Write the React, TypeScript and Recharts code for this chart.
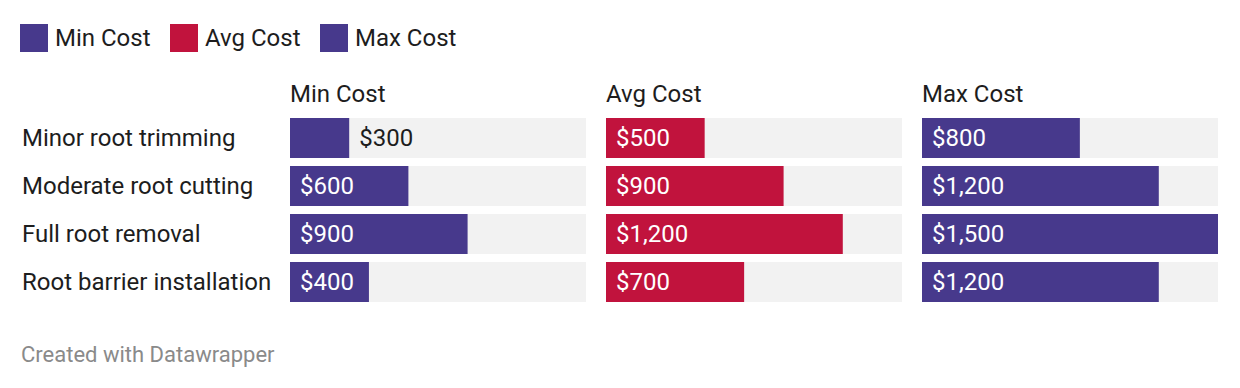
import React from "react";
import { BarChart, Bar, XAxis, YAxis, LabelList } from "recharts";

const categories = [
  "Minor root trimming",
  "Moderate root cutting",
  "Full root removal",
  "Root barrier installation",
];
const minCost = [300, 600, 900, 400];
const avgCost = [500, 900, 1200, 700];
const maxCost = [800, 1200, 1500, 1200];

const seriesNames = ["Min Cost", "Avg Cost", "Max Cost"];
const seriesKeys = ["min", "avg", "max"];
const seriesColors = ["#47398c", "#c1133d", "#47398c"];

const data = categories.map((c, i) => ({
  name: c,
  min: minCost[i],
  avg: avgCost[i],
  max: maxCost[i],
}));

const FONT = "Roboto, 'Noto Sans', sans-serif";
const TEXT = "#1d1d1d";
const FS = 24;

const fmt = (v: number) => "$" + v.toLocaleString("en-US");

const makeLabel = () => (props: any) => {
  const { x, y, width, height, value } = props;
  const inside = width > 74;
  return (
    <text
      x={inside ? x + 10 : x + width + 10}
      y={y + height / 2}
      dominantBaseline="central"
      fill={inside ? "#ffffff" : TEXT}
      fontSize={FS}
      fontFamily={FONT}
    >
      {fmt(value)}
    </text>
  );
};

const RowTick = (props: any) => {
  const { y, payload } = props;
  return (
    <text
      x={22}
      y={y}
      dominantBaseline="central"
      fill={TEXT}
      fontSize={FS}
      fontFamily={FONT}
    >
      {payload.value}
    </text>
  );
};

const colLefts = [290, 606, 922];
const COL_W = 296;
const CHART_TOP = 114;
const CHART_H = 192;

export default function App() {
  return (
    <div
      style={{
        position: "absolute",
        left: 0,
        top: 0,
        width: 1240,
        height: 388,
        background: "#ffffff",
        fontFamily: FONT,
        color: TEXT,
        overflow: "hidden",
      }}
    >
      {/* legend */}
      {seriesNames.map((n, i) => (
        <div
          key={n}
          style={{
            position: "absolute",
            left: [20, 170, 320][i],
            top: 24,
            height: 28,
            display: "flex",
            alignItems: "center",
            whiteSpace: "nowrap",
          }}
        >
          <div style={{ width: 28, height: 28, background: seriesColors[i] }} />
          <span style={{ marginLeft: 7, fontSize: FS, lineHeight: "28px" }}>{n}</span>
        </div>
      ))}

      {/* column headers */}
      {seriesNames.map((n, i) => (
        <div
          key={"h" + n}
          style={{
            position: "absolute",
            left: colLefts[i],
            top: 80,
            fontSize: FS,
            lineHeight: "28px",
            whiteSpace: "nowrap",
          }}
        >
          {n}
        </div>
      ))}

      {seriesKeys.map((k, i) => (
        <div
          key={k}
          style={{
            position: "absolute",
            left: i === 0 ? 0 : colLefts[i],
            top: CHART_TOP,
          }}
        >
          <BarChart
            width={i === 0 ? colLefts[0] + COL_W : COL_W}
            height={CHART_H}
            data={data}
            layout="vertical"
            margin={{ top: 0, right: 0, bottom: 0, left: 0 }}
            barSize={40}
          >
            <XAxis type="number" domain={[0, 1500]} hide />
            <YAxis
              type="category"
              dataKey="name"
              hide={i !== 0}
              width={i === 0 ? colLefts[0] : 0}
              axisLine={false}
              tickLine={false}
              tick={<RowTick />}
            />
            <Bar
              dataKey={k}
              fill={seriesColors[i]}
              background={{ fill: "#f2f2f2" }}
              isAnimationActive={false}
            >
              <LabelList dataKey={k} content={makeLabel()} />
            </Bar>
          </BarChart>
        </div>
      ))}

      {/* footer */}
      <div
        style={{
          position: "absolute",
          left: 21,
          top: 341,
          fontSize: 22,
          lineHeight: "28px",
          color: "#8a8a8a",
          whiteSpace: "nowrap",
        }}
      >
        Created with Datawrapper
      </div>
    </div>
  );
}
